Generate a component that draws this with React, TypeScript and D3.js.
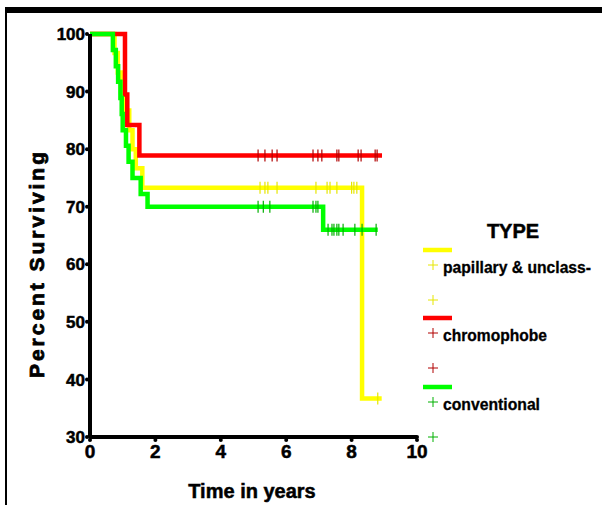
import React from "react";
import * as d3 from "d3";

// Kaplan–Meier steps: [time in years, percent surviving]
const papillarySteps: [number, number][] = [
  [0, 100], [0.75, 96.7], [0.85, 93.3], [0.95, 90], [1.05, 86.7],
  [1.2, 83.3], [1.3, 80], [1.4, 76.7], [1.6, 73.3], [8.32, 36.7],
];
const papillaryEnd = 8.92;
const papillaryCensored: [number, number][] = [
  [5.2, 73.3], [5.35, 73.3], [5.44, 73.3], [5.72, 73.3], [6.91, 73.3], [7.25, 73.3],
  [7.34, 73.3], [7.55, 73.3], [8.0, 73.3], [8.07, 73.3], [8.16, 73.3], [8.8, 36.7],
];

const chromophobeSteps: [number, number][] = [
  [0, 100], [1.07, 89.5], [1.14, 84.2], [1.51, 78.9],
];
const chromophobeEnd = 8.93;
const chromophobeCensored: [number, number][] = [
  [5.14, 78.9], [5.35, 78.9], [5.57, 78.9], [5.72, 78.9], [6.82, 78.9], [6.97, 78.9],
  [7.09, 78.9], [7.55, 78.9], [7.61, 78.9], [8.2, 78.9], [8.29, 78.9], [8.72, 78.9], [8.78, 78.9],
];

const conventionalSteps: [number, number][] = [
  [0, 100], [0.7, 97.2], [0.79, 94.4], [0.86, 91.7], [0.93, 88.9], [0.97, 86.1],
  [1.0, 83.3], [1.1, 80.6], [1.18, 77.8], [1.3, 75], [1.55, 72.2], [1.76, 70], [7.13, 66],
];
const conventionalEnd = 8.8;
const conventionalCensored: [number, number][] = [
  [5.14, 70], [5.3, 70], [5.5, 70], [6.82, 70], [6.91, 70], [6.97, 70],
  [7.28, 66], [7.4, 66], [7.46, 66], [7.55, 66], [7.61, 66], [7.74, 66], [8.1, 66], [8.32, 66], [8.75, 66],
];

const xTicks = [0, 2, 4, 6, 8, 10];
const yTicks = [30, 40, 50, 60, 70, 80, 90, 100];

const legendTitle = "TYPE";
const groupNames = ["papillary & unclass-", "chromophobe", "conventional"];

const FONT = "'Liberation Sans', Arial, sans-serif";

export default function App() {
  const W = 602;
  const H = 505;
  const x = d3.scaleLinear().domain([0, 10]).range([90, 417]);
  const y = d3.scaleLinear().domain([30, 100]).range([437, 34]);

  const line = d3
    .line<[number, number]>()
    .x((d) => x(d[0]))
    .y((d) => y(d[1]))
    .curve(d3.curveStepAfter);

  const withEnd = (steps: [number, number][], end: number): [number, number][] => [
    ...steps,
    [end, steps[steps.length - 1][1]],
  ];

  const series = [
    { name: groupNames[0], steps: papillarySteps, end: papillaryEnd, cens: papillaryCensored, color: "#ffff00", tick: "#e6e600", labelW: 148 },
    { name: groupNames[1], steps: chromophobeSteps, end: chromophobeEnd, cens: chromophobeCensored, color: "#ff0000", tick: "#b00000", labelW: 104 },
    { name: groupNames[2], steps: conventionalSteps, end: conventionalEnd, cens: conventionalCensored, color: "#00ff00", tick: "#00b000", labelW: 97 },
  ];

  const legendTop = [250, 318, 387];
  const heavy = { stroke: "#000", strokeWidth: 0.5, paintOrder: "stroke" } as const;

  return (
    <svg
      width={W}
      height={H}
      style={{ position: "absolute", left: 0, top: 0, background: "#fff" }}
      fontFamily={FONT}
    >
      {/* frame */}
      <rect x={5} y={7} width={W - 5} height={6} fill="#000" />
      <rect x={5} y={7} width={2} height={H - 7} fill="#000" />

      {/* survival curves */}
      {series.map((s) => (
        <g key={s.name}>
          <path d={line(withEnd(s.steps, s.end)) || ""} fill="none" stroke={s.color} strokeWidth={4.5} />
          {s.cens.map((c, i) => (
            <line
              key={i}
              x1={x(c[0])}
              x2={x(c[0])}
              y1={y(c[1]) - 6}
              y2={y(c[1]) + 6}
              stroke={s.tick}
              strokeWidth={1.2}
            />
          ))}
        </g>
      ))}

      {/* axes */}
      <line x1={x(0)} x2={x(0)} y1={y(100)} y2={y(30)} stroke="#000" strokeWidth={4} />
      <line x1={x(0)} x2={x(10)} y1={y(30)} y2={y(30)} stroke="#000" strokeWidth={4} strokeLinecap="round" />
      {yTicks.map((t) => (
        <g key={t}>
          <circle cx={x(0) - 3} cy={y(t)} r={2} fill="#000" />
          <text x={x(0) - 5} y={y(t)} dy="0.36em" textAnchor="end" fontSize={17} fontWeight="bold" fill="#000" {...heavy}>
            {t}
          </text>
        </g>
      ))}
      {xTicks.map((t) => (
        <g key={t}>
          <circle cx={x(t)} cy={y(30) + 3} r={2} fill="#000" />
          <text x={x(t)} y={y(30) + 21} textAnchor="middle" fontSize={19} fontWeight="bold" fill="#000" {...heavy}>
            {t}
          </text>
        </g>
      ))}

      {/* axis titles */}
      <text
        transform={`translate(44,265) rotate(-90)`}
        textAnchor="middle"
        fontSize={21}
        fontWeight="bold"
        fill="#000"
        textLength={226}
        lengthAdjust="spacing"
        {...heavy}
        strokeWidth={0.8}
      >
        Percent  Surviving
      </text>
      <text x={252} y={498} textAnchor="middle" fontSize={20} fontWeight="bold" fill="#000" {...heavy}>
        Time in years
      </text>

      {/* legend */}
      <text x={513} y={238} textAnchor="middle" fontSize={20} fontWeight="bold" fill="#000" {...heavy}>
        {legendTitle}
      </text>
      {series.map((s, i) => {
        const ly = legendTop[i];
        return (
          <g key={s.name}>
            <line x1={423} x2={452} y1={ly} y2={ly} stroke={s.color} strokeWidth={4.5} />
            <g stroke={s.tick} strokeWidth={1}>
              <line x1={428} x2={438} y1={ly + 15} y2={ly + 15} />
              <line x1={433} x2={433} y1={ly + 10} y2={ly + 20} />
              <line x1={428} x2={438} y1={ly + 50} y2={ly + 50} />
              <line x1={433} x2={433} y1={ly + 45} y2={ly + 55} />
            </g>
            <text
              x={443}
              y={ly + 23}
              fontSize={16}
              fontWeight="bold"
              fill="#000"
              textLength={s.labelW}
              lengthAdjust="spacingAndGlyphs"
              {...heavy}
              strokeWidth={0.3}
            >
              {s.name}
            </text>
          </g>
        );
      })}
    </svg>
  );
}
